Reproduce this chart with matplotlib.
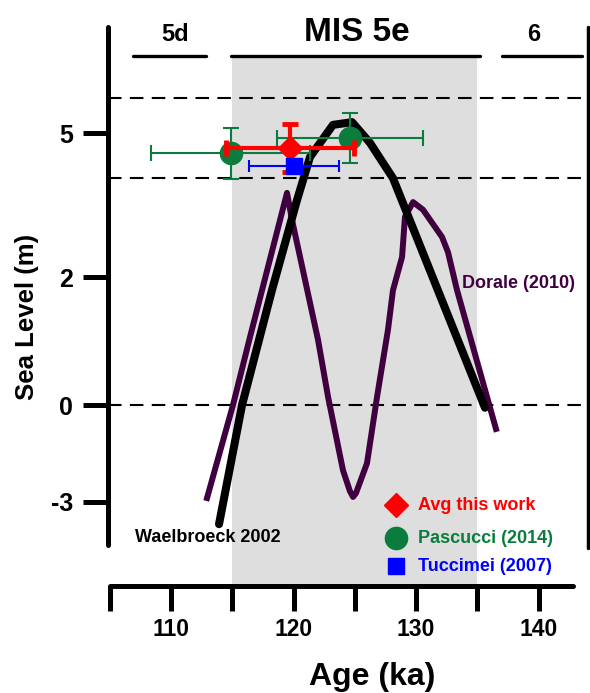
import matplotlib
matplotlib.use('Agg')  # no display
import matplotlib.pyplot as plt

# --- Data (ages in ka, sea level in plotted axis units) ---
wael_age = [113.92, 115.80, 118.24, 120.29, 121.35, 123.22, 124.78, 126.24, 128.12, 135.63]
wael_sl = [-2.19, 0.0, 2.11, 3.77, 4.56, 5.15, 5.20, 4.82, 4.17, -0.05]

dorale_age = [112.94, 115.06, 116.45, 119.47, 119.88, 122.0, 122.82, 124.04, 124.6, 124.86,
              125.1, 126.0, 126.82, 127.71, 128.12, 128.86, 129.10, 129.76, 130.57, 132.12,
              132.61, 133.35, 136.53]
dorale_sl = [-1.71, 0.0, 1.25, 3.90, 3.40, 1.20, 0.15, -1.20, -1.58, -1.69,
             -1.62, -1.07, 0.15, 1.38, 2.11, 2.72, 3.46, 3.73, 3.59, 3.09,
             2.81, 2.11, -0.44]

avg_age = [119.71]
avg_sl = [4.72]
avg_xerr = [5.2]
avg_yerr = [0.44]

pascucci_age = [114.86, 124.6]
pascucci_sl = [4.63, 4.91]
pascucci_xerr = [6.49, 5.95]
pascucci_yerr = [0.47, 0.46]

tuccimei_age = [120.04]
tuccimei_sl = [4.39]
tuccimei_xerr = [3.67]

# MIS stages drawn along the top
stage_names = ['5d', 'MIS 5e', '6']
stage_start = [106.9, 114.9, 137.0]
stage_end = [112.86, 135.22, 143.55]
stage_label_x = [110.3, 125.2, 139.6]

mis5e_range = (115, 135)
ref_levels = [5.64, 4.17, 0.0]

xtick_major = [110, 120, 130, 140]
xtick_minor = [105, 115, 125, 135]
ytick_pos = [5.0, 2.35, 0.0, -1.78]
ytick_labels = ['5', '2', '0', '-3']

legend_names = ['Avg this work', 'Pascucci (2014)', 'Tuccimei (2007)']
legend_y = [-1.84, -2.45, -2.96]

RED = '#FF0000'
GREEN = '#0A7D3E'
BLUE = '#0000FF'
PURPLE = '#400040'

plt.rcParams['font.family'] = ['Liberation Sans', 'DejaVu Sans']
plt.rcParams['font.weight'] = 'bold'

fig = plt.figure(figsize=(5.9, 6.93), dpi=100)
ax = fig.add_axes([108 / 590, 1 - 586 / 693, 480 / 590, 559 / 693])
ax.set_xlim(104.857, 144.04)
ax.set_ylim(-3.327, 6.949)

# shaded MIS 5e interval
ax.fill_between(mis5e_range, -3.327, 6.40, color='#DEDEDE', zorder=0, linewidth=0)

for lvl in ref_levels:
    ax.axhline(lvl, color='black', lw=1.5, dashes=(6.5, 4), zorder=1)

# stage bars and names
for name, s, e, lx in zip(stage_names, stage_start, stage_end, stage_label_x):
    ax.plot([s, e], [6.42, 6.42], color='black', lw=2.4, solid_capstyle='round', clip_on=False)
    ax.text(lx, 6.69, name, ha='center', va='baseline',
            fontsize=24 if name == 'MIS 5e' else 17, fontweight='bold')

# sea level curves
ax.plot(dorale_age, dorale_sl, color=PURPLE, lw=4.3, zorder=2)
ax.plot(wael_age, wael_sl, color='black', lw=5.8, solid_capstyle='round', zorder=3)
ax.text(133.76, 2.24, 'Dorale (2010)', color=PURPLE, fontsize=13, va='center', fontweight='bold')
ax.text(107.06, -2.43, 'Waelbroeck 2002', color='black', fontsize=13, va='center', fontweight='bold')

# data points with error bars
ax.errorbar(pascucci_age, pascucci_sl, xerr=pascucci_xerr, yerr=pascucci_yerr, fmt='o',
            color=GREEN, ms=16, elinewidth=1.5, capsize=6, capthick=1.5, zorder=4)
ax.errorbar(avg_age, avg_sl, xerr=avg_xerr, yerr=avg_yerr, fmt='D', color=RED, ms=12.5,
            elinewidth=3, capsize=5.5, capthick=3.5, zorder=5)
ax.errorbar(tuccimei_age, tuccimei_sl, xerr=tuccimei_xerr, fmt='s', color=BLUE, ms=12,
            elinewidth=1.5, capsize=4.5, capthick=1.5, zorder=6)

# hand made legend
legend_markers = ['D', 'o', 's']
legend_sizes = [12.5, 16, 11]
legend_colors = [RED, GREEN, BLUE]
for name, y, m, ms, c in zip(legend_names, legend_y, legend_markers, legend_sizes, legend_colors):
    ax.plot([128.4], [y], marker=m, ms=ms, color=c, linestyle='none', zorder=6)
    ax.text(130.2, y, name, color=c, fontsize=13, va='center', fontweight='bold')

# axes styling
ax.spines['top'].set_visible(False)
ax.spines['left'].set_linewidth(3.6)
ax.spines['left'].set_bounds(-2.574, 6.949)
ax.spines['right'].set_linewidth(2.5)
ax.spines['right'].set_bounds(-2.63, 6.949)
ax.spines['bottom'].set_linewidth(3.6)
ax.spines['bottom'].set_bounds(105, 142.8)
for sp in ax.spines.values():
    sp.set_capstyle('round')

ax.set_xticks(xtick_major)
ax.set_xticks(xtick_minor, minor=True)
ax.set_xticklabels([str(t) for t in xtick_major])
ax.tick_params(axis='x', which='both', direction='out', length=18, width=3.6, pad=5, labelsize=16.5)
ax.set_yticks(ytick_pos)
ax.set_yticklabels(ytick_labels)
ax.tick_params(axis='y', direction='out', length=18, width=3.6, pad=7, labelsize=18, right=False)
for lab in ax.get_xticklabels() + ax.get_yticklabels():
    lab.set_fontweight('bold')

fig.text(372 / 590, 1 - 677 / 693, 'Age (ka)', ha='center', va='center', fontsize=23, fontweight='bold')
fig.text(27 / 590, 1 - 317 / 693, 'Sea Level (m)', ha='center', va='center', rotation=90,
         fontsize=18.5, fontweight='bold')

fig.savefig('out.png', dpi=100, facecolor='white')
